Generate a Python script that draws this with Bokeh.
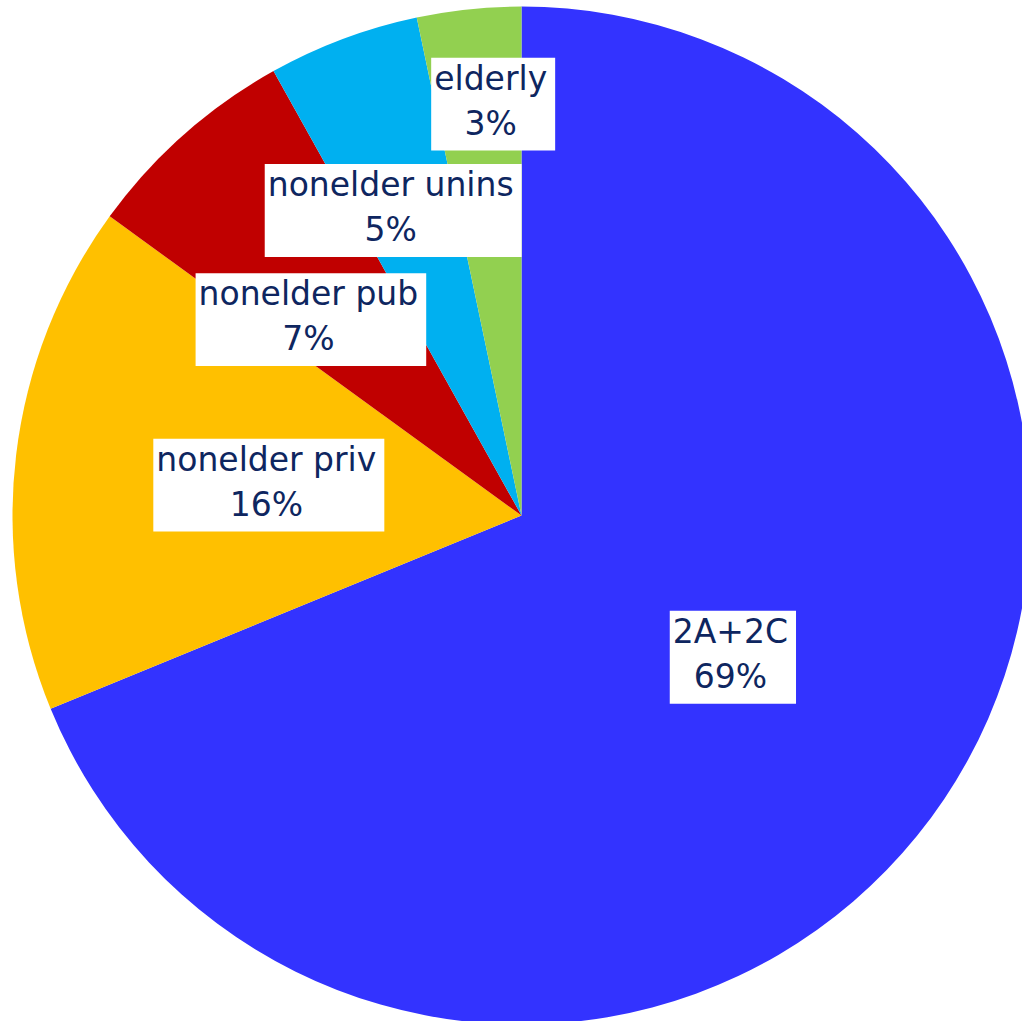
import math
from bokeh.plotting import figure
from bokeh.models import Range1d, ColumnDataSource
from bokeh.embed import file_html
from bokeh.resources import INLINE
from bokeh.core.properties import value

categories = ["2A+2C", "nonelder priv", "nonelder pub", "nonelder unins", "elderly"]
shares = [68.8, 16.2, 6.9, 4.8, 3.3]
colors = ["#3333FF", "#FFC000", "#C00000", "#00B0F0", "#92D050"]

# layout (label placement): radial fraction and angle nudge in degrees
label_rfrac = [0.50, 0.50, 0.565, 0.65, 0.81]
label_nudge = [0.0, 0.0, 5.5, 2.3, -2.0]

W, H = 1022, 1021
cx, cy, R = 521, H - 515, 509

total = sum(shares)
starts, ends, lx, ly, texts = [], [], [], [], []
a = math.pi / 2
for i, s in enumerate(shares):
    sweep = 2 * math.pi * s / total
    start, end = a - sweep, a
    starts.append(start)
    ends.append(end)
    mid = (start + end) / 2 + math.radians(label_nudge[i])
    lx.append(cx + label_rfrac[i] * R * math.cos(mid))
    ly.append(cy + label_rfrac[i] * R * math.sin(mid))
    texts.append(f"{categories[i]}\n{round(s / total * 100)}%")
    a = start

src = ColumnDataSource(dict(start=starts, end=ends, color=colors,
                            x=lx, y=ly, text=texts))

p = figure(width=W, height=H, output_backend="svg", toolbar_location=None,
           x_range=Range1d(0, W), y_range=Range1d(0, H), min_border=0)
p.axis.visible = False
p.grid.visible = False
p.outline_line_color = None
p.background_fill_color = "white"
p.border_fill_color = "white"

p.wedge(x=cx, y=cy, radius=R, start_angle="start", end_angle="end",
        color="color", line_color=None, source=src)

p.text(x="x", y="y", text="text", source=src,
       text_font=value("DejaVu Sans"), text_font_size="33px",
       text_color="#0E2660", text_align="center", text_baseline="middle",
       text_line_height=1.15,
       background_fill_color="white", padding=[3, 8, 1, 8])

open("out.html", "w").write(file_html(p, INLINE))
